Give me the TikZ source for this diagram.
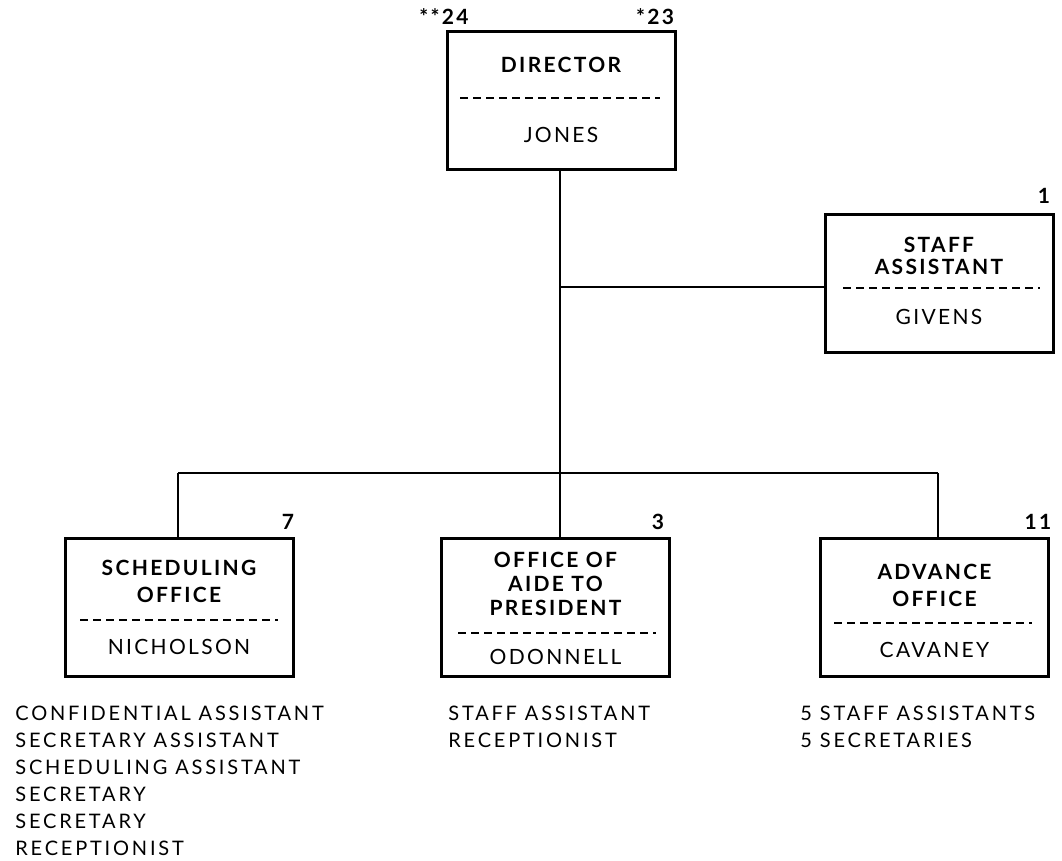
\documentclass[tikz,border=0pt]{standalone}
\usepackage{fontspec}
\setmainfont{Lato}
\newfontfamily\spacedfont[LetterSpace=11]{Lato}
\newfontfamily\listfont[LetterSpace=14]{Lato}
\begin{document}
\begin{tikzpicture}[x=0.5pt,y=-0.5pt,
  orgbox/.style={draw, line width=1.5pt, minimum width=114pt, minimum height=69pt, inner sep=0pt},
  ttl/.style={font=\spacedfont\bfseries\fontsize{10.5}{13.5}\selectfont, align=center, inner sep=0pt},
  nm/.style={font=\spacedfont\fontsize{10.5}{12}\selectfont, inner sep=0pt},
  num/.style={font=\spacedfont\bfseries\fontsize{10.5}{12}\selectfont, inner sep=0pt},
  lst/.style={font=\listfont\fontsize{10}{13.5}\selectfont, align=left, inner sep=0pt, anchor=north west},
  sep/.style={line width=1.2pt, dash pattern=on 4pt off 2.5pt},
  conn/.style={line width=1.4pt}]
\useasboundingbox (0,0) rectangle (1062,861);

% boxes
\node[orgbox] (dir) at (561,101) {};
\node[orgbox] (staff) at (939,283.5) {};
\node[orgbox] (sched) at (179,608) {};
\node[orgbox] (aide) at (555.5,608) {};
\node[orgbox] (adv) at (934.5,608) {};

% director
\node[ttl] (dirT) at (561,65) {DIRECTOR};
\draw[sep] (460,98) -- (660,98);
\node[nm] (dirN) at (561,135) {JONES};
\node[num] (n24) at (444,17) {**24};
\node[num] (n23) at (655,17) {*23};

% staff assistant
\node[ttl, font=\spacedfont\bfseries\fontsize{10.5}{11}\selectfont] (staffT) at (939,256) {STAFF\\ASSISTANT};
\draw[sep] (843,288) -- (1040,288);
\node[nm] (staffN) at (939,317) {GIVENS};
\node[num] (n1) at (1044,196) {1};

% scheduling
\node[ttl] (schedT) at (179,581.5) {SCHEDULING\\OFFICE};
\draw[sep] (80,620) -- (278,620);
\node[nm] (schedN) at (179,647) {NICHOLSON};
\node[num] (n7) at (288,522) {7};

% aide
\node[ttl, font=\spacedfont\bfseries\fontsize{10.5}{12}\selectfont] (aideT) at (555.5,584) {OFFICE OF\\AIDE TO\\PRESIDENT};
\draw[sep] (458,633) -- (656,633);
\node[nm] (aideN) at (555.5,657) {ODONNELL};
\node[num] (n3) at (658,522) {3};

% advance
\node[ttl] (advT) at (934.5,585.5) {ADVANCE\\OFFICE};
\draw[sep] (834,623) -- (1032,623);
\node[nm] (advN) at (934.5,650) {CAVANEY};
\node[num] (n11) at (1038,522) {11};

% lists
\node[lst] (schedL) at (15,706) {CONFIDENTIAL ASSISTANT\\SECRETARY ASSISTANT\\SCHEDULING ASSISTANT\\SECRETARY\\SECRETARY\\RECEPTIONIST};
\node[lst] (aideL) at (448,706) {STAFF ASSISTANT\\RECEPTIONIST};
\node[lst] (advL) at (800,706) {5 STAFF ASSISTANTS\\5 SECRETARIES};

% connectors
\coordinate (jS) at (560,287);
\coordinate (jB) at (560,473);
\coordinate (jL) at (178,473);
\coordinate (jR) at (938,473);
\draw[conn] (dir.south -| jB) -- (jB);
\draw[conn] (jS) -- (jS -| staff.west);
\draw[conn] (jB) -- (jB |- aide.north);
\draw[conn] (jL) -- (jR);
\draw[conn] (jL) -- (jL |- sched.north);
\draw[conn] (jR) -- (jR |- adv.north);
\end{tikzpicture}
\end{document}
